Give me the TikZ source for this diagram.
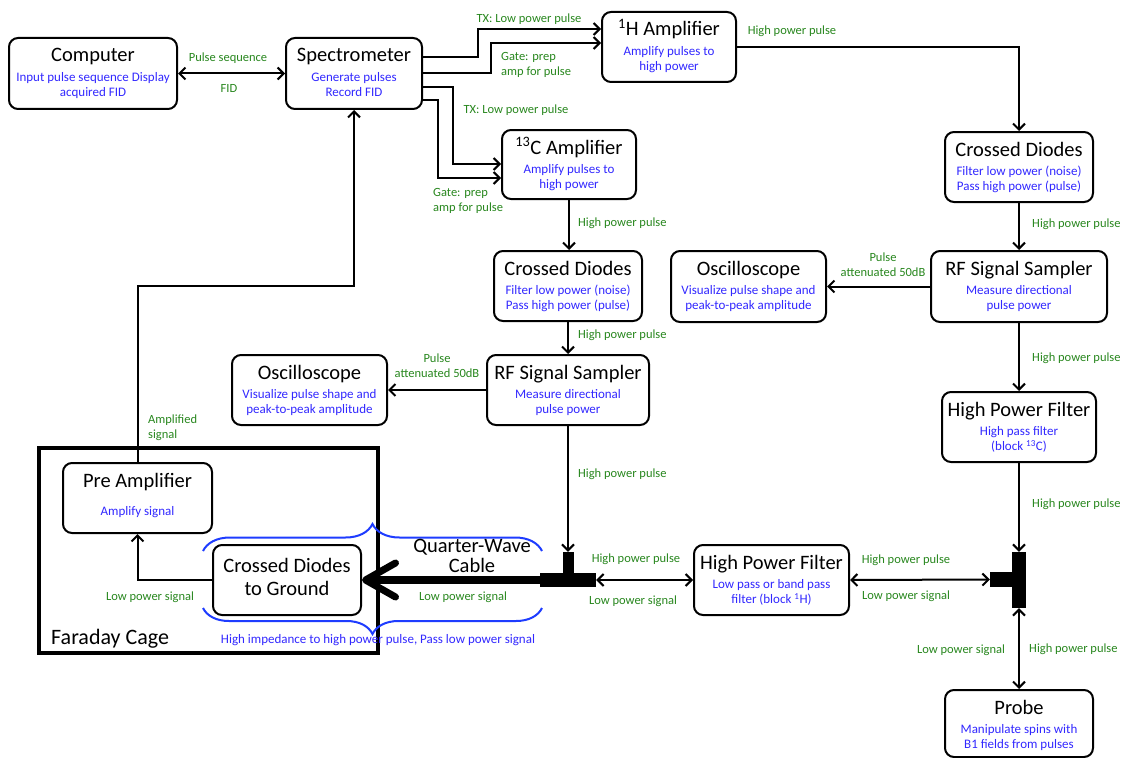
\documentclass[tikz,border=0pt]{standalone}
\usepackage{fontspec}
\setmainfont{Carlito}
\usetikzlibrary{arrows.meta,decorations.pathreplacing,calc}
\definecolor{lbl}{RGB}{40,135,30}
\definecolor{dsc}{RGB}{50,40,255}
\definecolor{brc}{RGB}{30,60,255}
\newcommand{\mkblock}[7]{%
  \node[blk, minimum width=#4pt, minimum height=#5pt] (#1) at (#2,#3) {};
  \node[ttl, anchor=base] (#1-t) at ([yshift=-25pt]#1.north) {#6};
  \node[dtxt, anchor=north] (#1-d) at ([yshift=-33.5pt]#1.north) {\rule{0pt}{10.5pt}#7};
}
\begin{document}
\begin{tikzpicture}[x=1pt,y=-1pt,
  blk/.style={draw, line width=2pt, rounded corners=9pt, inner sep=0pt, fill=white},
  ttl/.style={inner sep=0pt, font=\fontsize{20.5}{23}\selectfont, align=center},
  dtxt/.style={inner sep=0pt, text=dsc, font=\fontsize{13}{15.5}\selectfont, align=center},
  lab/.style={inner sep=0pt, text=lbl, font=\fontsize{12.5}{15}\selectfont, align=center},
  arr/.style={line width=2pt, -{Straight Barb[length=6pt,width=12pt]}},
  darr/.style={line width=2pt, {Straight Barb[length=6pt,width=12pt]}-{Straight Barb[length=6pt,width=12pt]}},
  tee/.style={fill=black, draw=none, inner sep=0pt},
  bracestyle/.style={draw=brc, line width=2pt, decorate},
  ]
\useasboundingbox (0,0) rectangle (1123,757);
\fill[white] (0,0) rectangle (1123,757);

% Faraday cage
\draw[line width=3.5pt] (39,448) rectangle (378,653);
\node[inner sep=0pt, font=\fontsize{22}{24}\selectfont, anchor=west] (cage) at (51,639) {Faraday Cage};

% blocks
\mkblock{comp}{93}{73.5}{168}{71}{Computer}{Input pulse sequence Display\\acquired FID}
\mkblock{spec}{354}{73.5}{136}{71}{Spectrometer}{Generate pulses\\Record FID}
\mkblock{h1}{669}{47}{134}{70}{\textsuperscript{1}H Amplifier}{Amplify pulses to\\high power}
\mkblock{c13}{569}{164.5}{134}{69}{\textsuperscript{13}C Amplifier}{Amplify pulses to\\high power}
\mkblock{cd1}{1019}{167}{148}{70}{Crossed Diodes}{Filter low power (noise)\\Pass high power (pulse)}
\mkblock{rf1}{1019}{286.5}{176}{71}{RF Signal Sampler}{Measure directional\\pulse power}
\mkblock{osc1}{748.5}{286.5}{155}{71}{Oscilloscope}{Visualize pulse shape and\\peak-to-peak amplitude}
\mkblock{hpf1}{1019}{427}{154}{70}{High Power Filter}{High pass filter\\(block \textsuperscript{13}C)}
\mkblock{cd2}{568}{286}{148}{70}{Crossed Diodes}{Filter low power (noise)\\Pass high power (pulse)}
\mkblock{rf2}{568}{390}{162}{70}{RF Signal Sampler}{Measure directional\\pulse power}
\mkblock{osc2}{309.5}{390}{155}{70}{Oscilloscope}{Visualize pulse shape and\\peak-to-peak amplitude}
\mkblock{hpf2}{771.5}{580}{155}{70}{High Power Filter}{Low pass or band pass\\filter (block \textsuperscript{1}H)}
\mkblock{probe}{1019}{723.5}{148}{67}{Probe}{Manipulate spins with\\B1 fields from pulses}

\node[blk, minimum width=149pt, minimum height=70pt] (pre) at (137.5,498) {};
\node[ttl, anchor=base] (pre-t) at ([yshift=-25pt]pre.north) {Pre Amplifier};
\node[dtxt, anchor=north] (pre-d) at ([yshift=-42.5pt]pre.north) {\rule{0pt}{10.5pt}Amplify signal};

\node[blk, minimum width=148pt, minimum height=70pt] (cdg) at (287,580) {};
\node[ttl, anchor=north] (cdg-t) at ([yshift=-13pt]cdg.north) {\rule{0pt}{15pt}Crossed Diodes\\to Ground};

% tee junctions
\node[tee, minimum width=56pt, minimum height=14pt] (ltb) at (568,580) {};
\node[tee, minimum width=11pt, minimum height=22pt] (lts) at (568,563) {};
\node[tee, minimum width=14pt, minimum height=56pt] (rtb) at (1019,580) {};
\node[tee, minimum width=22pt, minimum height=15pt] (rts) at (1001,579.5) {};

% connectors
\draw[darr] (comp.east) -- (spec.west);
\draw[arr] ([yshift=16.5pt]spec.east) -- ++(55,0) |- ([yshift=18pt]h1.west);
\draw[arr] ([yshift=0.5pt]spec.east) -- ++(68,0) |- ([yshift=4pt]h1.west);
\draw[arr] ([yshift=-13.5pt]spec.east) -- ++(30,0) |- ([yshift=0.5pt]c13.west);
\draw[arr] ([yshift=-26.5pt]spec.east) -- ++(15,0) |- ([yshift=-13.5pt]c13.west);
\draw[arr] (h1.east) -| (cd1.north);
\draw[arr] (c13.south) -- (c13.south |- cd2.north);
\draw[arr] (cd1.south) -- (rf1.north);
\draw[arr] (rf1.west) -- (osc1.east);
\draw[arr] (rf1.south) -- (hpf1.north);
\draw[arr] (cd2.south) -- (rf2.north);
\draw[arr] (rf2.west) -- (osc2.east);
\draw[arr] (rf2.south) -- (lts.north);
\draw[darr] (ltb.east) -- (hpf2.west);
\draw[arr] (hpf1.south) -- (rtb.north);
\draw[darr] (hpf2.east) -- (rts.west);
\draw[darr] (rtb.south) -- (probe.north);
\draw[line width=8pt, -{Straight Barb[length=30pt,width=34pt,line width=7pt,round]}] (ltb.west) -- (cdg.east);
\draw[arr] (cdg.west) -| (pre.south);
\draw[arr] (pre.north) -- ++(0,-176) -| (spec.south);

% braces
\draw[bracestyle, decoration={brace, amplitude=27pt}] (203,551) -- (542,551);
\draw[bracestyle, decoration={brace, amplitude=26pt}] (542,608) -- (203,608);

% labels
\node[lab] (l-ps) at (228,58) {Pulse sequence};
\node[lab] (l-fid) at (229,88) {FID};
\node[lab] (l-tx1) at (529,19) {TX: Low power pulse};
\node[lab, align=left, anchor=west] (l-g1) at (501,64.5) {Gate: prep\\amp for pulse};
\node[lab] (l-tx2) at (516,110) {TX: Low power pulse};
\node[lab, align=left, anchor=west] (l-g2) at (433,200.5) {Gate: prep\\amp for pulse};
\node[lab] (l-h1) at (792,31) {High power pulse};
\node[lab, anchor=west] (l-c13) at (578,223) {High power pulse};
\node[lab, anchor=west] (l-cd1) at (1032,224) {High power pulse};
\node[lab] (l-pa1) at (883,265) {Pulse\\attenuated 50dB};
\node[lab, anchor=west] (l-rf1) at (1032,358) {High power pulse};
\node[lab, anchor=west] (l-cd2) at (578,335) {High power pulse};
\node[lab] (l-pa2) at (437,365.5) {Pulse\\attenuated 50dB};
\node[lab, anchor=west] (l-rf2) at (578,474) {High power pulse};
\node[lab, anchor=west] (l-hpf1) at (1032,504) {High power pulse};
\node[lab] (l-lt1) at (636,559) {High power pulse};
\node[lab] (l-lt2) at (633,601) {Low power signal};
\node[lab] (l-rt1) at (906,560) {High power pulse};
\node[lab] (l-rt2) at (906,596) {Low power signal};
\node[lab] (l-pr1) at (961,650) {Low power signal};
\node[lab, anchor=west] (l-pr2) at (1029,649) {High power pulse};
\node[lab] (l-qw) at (463,597) {Low power signal};
\node[lab] (l-cg) at (150,597) {Low power signal};
\node[lab, align=left, anchor=west] (l-amp) at (148,427.5) {Amplified\\signal};
\node[dtxt] (l-hi) at (378,640) {High impedance to high power pulse, Pass low power signal};
\node[ttl, font=\fontsize{20.5}{20}\selectfont] (qw) at (472,556) {Quarter-Wave\\Cable};
\end{tikzpicture}
\end{document}
